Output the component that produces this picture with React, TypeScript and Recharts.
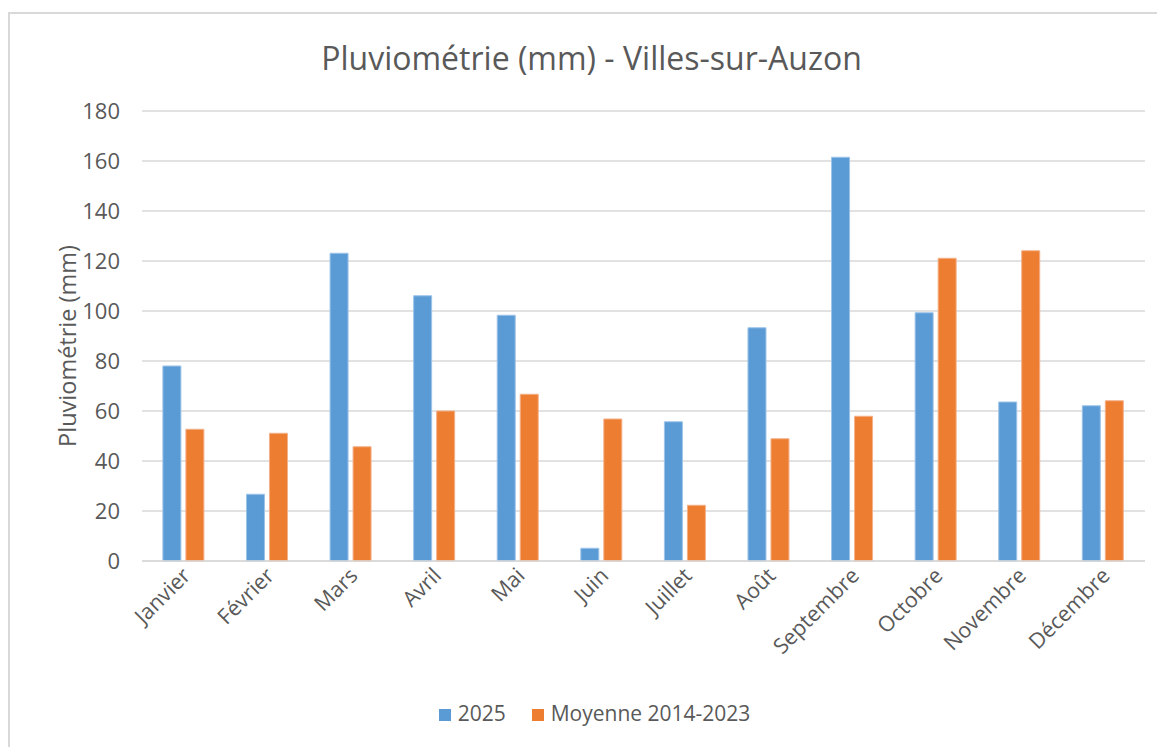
import React from 'react';
import { BarChart, Bar, XAxis, YAxis, CartesianGrid, Legend } from 'recharts';

const months = ['Janvier', 'Février', 'Mars', 'Avril', 'Mai', 'Juin', 'Juillet', 'Août', 'Septembre', 'Octobre', 'Novembre', 'Décembre'];
const values2025 = [78, 26.7, 123.1, 106.1, 98.3, 5.1, 55.7, 93.3, 161.5, 99.3, 63.6, 62.1];
const moyenne = [52.7, 51.1, 45.7, 60, 66.7, 56.8, 22.3, 48.9, 57.9, 121.1, 124.1, 64.1];
const yTicks = [0, 20, 40, 60, 80, 100, 120, 140, 160, 180];

const seriesNames = { a: '2025', b: 'Moyenne 2014-2023' };
const data = months.map((m, i) => ({ month: m, a: values2025[i], b: moyenne[i] }));

const FONT = '"Open Sans", sans-serif';
const TXT = '#595959';

const MonthTick = (props: any) => {
  const { x, y, payload } = props;
  const ax = x + 8;
  const ay = y + 8;
  return (
    <text x={ax} y={ay} transform={`rotate(-45, ${ax}, ${ay})`} textAnchor="end" fill={TXT} fontSize={21.5} fontFamily={FONT}>
      {payload.value}
    </text>
  );
};

const YLabel = () => (
  <text x={59} y={338} transform="rotate(-90, 59, 338)" textAnchor="middle" dominantBaseline="central" fill={TXT} fontSize={23.5} fontFamily={FONT}>
    Pluviométrie (mm)
  </text>
);

export default function App() {
  return (
    <div style={{ position: 'relative', width: 1157, height: 739, fontFamily: FONT }}>
      <div style={{ position: 'absolute', left: 0, top: 4, width: 1157, height: 735, borderLeft: '2px solid #d9d9d9', borderTop: '2px solid #d9d9d9', boxSizing: 'border-box' }} />
      <div style={{ position: 'absolute', left: 0, top: 28, width: 1167, textAlign: 'center', fontSize: 32, color: TXT, fontFamily: FONT }}>
        Pluviométrie (mm) - Villes-sur-Auzon
      </div>
      <div style={{ position: 'absolute', left: 0, top: 0 }}>
        <BarChart width={1157} height={739} data={data} margin={{ top: 103, right: 20, left: 0, bottom: 66 }} barCategoryGap="25%" barGap={5}>
          <CartesianGrid vertical={false} stroke="#d9d9d9" strokeWidth={1.5} />
          <XAxis dataKey="month" axisLine={{ stroke: '#d9d9d9', strokeWidth: 1.5 }} tickLine={false} tick={<MonthTick />} interval={0} height={120} />
          <YAxis domain={[0, 180]} ticks={yTicks} axisLine={false} tickLine={false} width={134} tickSize={0} tickMargin={22} tick={{ fill: TXT, fontSize: 22, fontFamily: FONT }} label={<YLabel />} />
          <Legend layout="horizontal" verticalAlign="middle" align="center" iconType="square" iconSize={12}
            wrapperStyle={{ top: 691, left: 21, width: 1157, fontSize: 21, fontFamily: FONT }}
            formatter={(v: string) => <span style={{ color: TXT, marginLeft: 3, marginRight: 16 }}>{v}</span>} />
          <Bar dataKey="a" name={seriesNames.a} fill="#5B9BD5" stroke="#9cc3e8" strokeWidth={1} isAnimationActive={false} />
          <Bar dataKey="b" name={seriesNames.b} fill="#ED7D31" stroke="#f4b089" strokeWidth={1} isAnimationActive={false} />
        </BarChart>
      </div>
    </div>
  );
}
